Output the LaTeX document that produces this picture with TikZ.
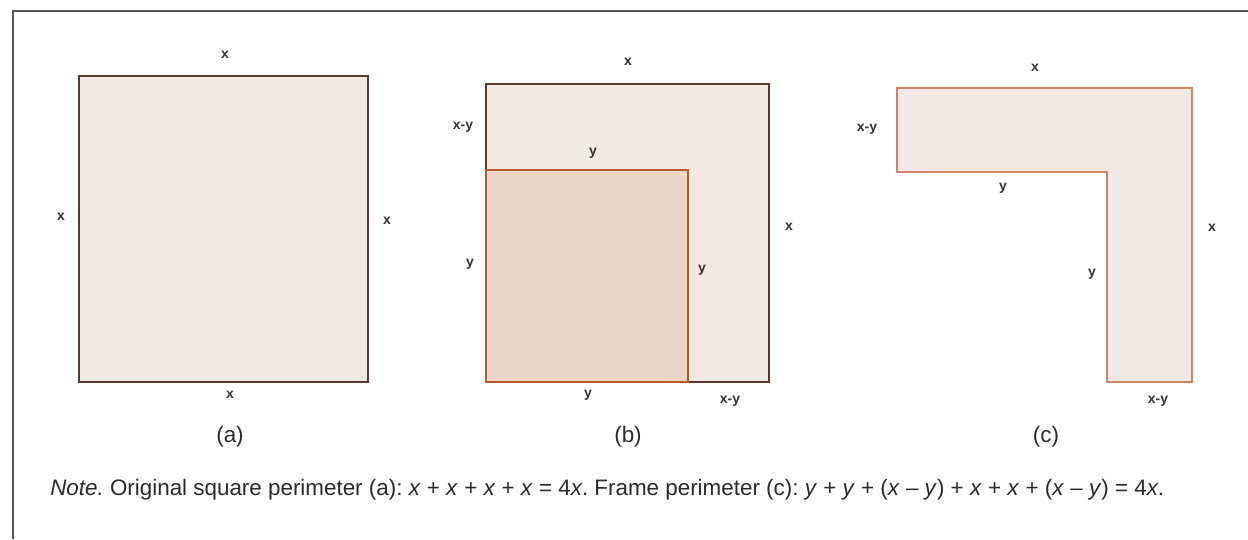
\documentclass[tikz,border=0pt]{standalone}
\usepackage{fontspec}
\setmainfont{Liberation Sans}
\frenchspacing
\definecolor{frameC}{HTML}{555555}
\definecolor{fillA}{HTML}{F3E9E4}
\definecolor{fillB}{HTML}{EAD7CA}
\definecolor{brownA}{HTML}{5A3A2C}
\definecolor{orangeB}{HTML}{B8592C}
\definecolor{orangeC}{HTML}{CC8566}
\definecolor{labC}{HTML}{333333}
\definecolor{txtC}{HTML}{2A2A2A}
\begin{document}
\begin{tikzpicture}[x=0.75pt,y=-0.75pt,
  lab/.style={font=\fontsize{10.5}{12}\selectfont\bfseries, text=labC, inner sep=0pt},
  captxt/.style={font=\fontsize{16.8}{19}\selectfont, text=txtC, inner sep=0pt},
  sqA/.style={fill=fillA, draw=brownA, line width=2.2pt, line join=miter},
  sqB/.style={fill=fillB, draw=orangeB, line width=2.2pt, line join=miter},
  shC/.style={fill=fillA, draw=orangeC, line width=2.2pt, line join=miter}]
\useasboundingbox (0,0) rectangle (1248,539);
\draw[frameC, line width=1.1pt] (13,539) -- (13,11) -- (1248,11);
% (a)
\draw[sqA] (79,76) rectangle (368,382);
\node[lab] (a-top) at (225,55) {x};
\node[lab] (a-left) at (61,217) {x};
\node[lab] (a-right) at (387,221) {x};
\node[lab] (a-bot) at (230,395) {x};
\node[captxt] (a-cap) at (230,437) {(a)};
% (b)
\draw[sqA] (486,84) rectangle (769,382);
\draw[sqB] (486,170) rectangle (688,382);
\node[lab] (b-top) at (628,62) {x};
\node[lab] (b-xy) at (463,127) {x-y};
\node[lab] (b-ytop) at (593,153) {y};
\node[lab] (b-yleft) at (470,264) {y};
\node[lab] (b-yright) at (702,270) {y};
\node[lab] (b-right) at (789,227) {x};
\node[lab] (b-ybot) at (588,395) {y};
\node[lab] (b-xybot) at (730,401) {x-y};
\node[captxt] (b-cap) at (628,437) {(b)};
% (c)
\draw[shC] (897,88) -- (1192,88) -- (1192,382) -- (1107,382) -- (1107,172) -- (897,172) -- cycle;
\node[lab] (c-top) at (1035,68) {x};
\node[lab] (c-xy) at (867,129) {x-y};
\node[lab] (c-y1) at (1003,188) {y};
\node[lab] (c-y2) at (1092,274) {y};
\node[lab] (c-right) at (1212,228) {x};
\node[lab] (c-xybot) at (1158,401) {x-y};
\node[captxt] (c-cap) at (1046,437) {(c)};
% note
\node[captxt, anchor=west] (note) at (50,490) {\textit{Note.} Original square perimeter (a): \textit{x} + \textit{x} + \textit{x} + \textit{x} = 4\textit{x}. Frame perimeter (c): \textit{y} + \textit{y} + (\textit{x} – \textit{y}) + \textit{x} + \textit{x} + (\textit{x} – \textit{y}) = 4\textit{x}.};
\end{tikzpicture}
\end{document}
